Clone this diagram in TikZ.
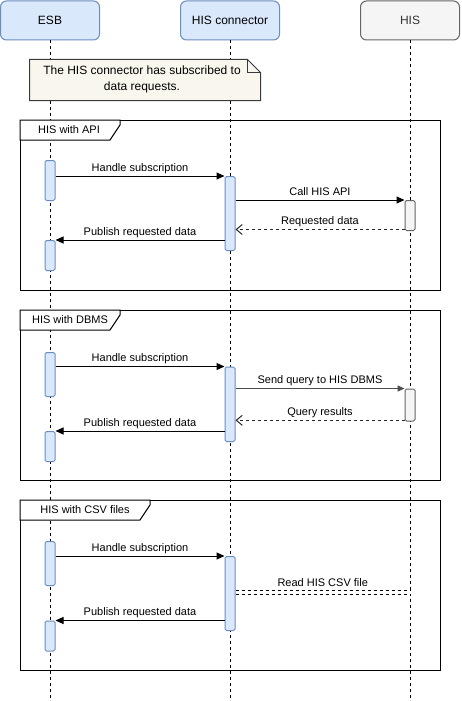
\documentclass[tikz,border=0pt]{standalone}
\usepackage{fontspec}
\setmainfont{Liberation Sans}
\usetikzlibrary{arrows.meta}
\definecolor{bluefill}{HTML}{DAE8FC}
\definecolor{bluedraw}{HTML}{6C8EBF}
\definecolor{grayfill}{HTML}{F5F5F5}
\definecolor{graydraw}{HTML}{666666}
\definecolor{graytext}{HTML}{333333}
\definecolor{notefill}{HTML}{F9F7ED}
\definecolor{notedraw}{HTML}{36393D}
\begin{document}
\begin{tikzpicture}[x=1pt,y=-1pt,line width=1pt,
  head/.style={draw=bluedraw,fill=bluefill,rounded corners=6pt,minimum width=99pt,minimum height=39pt,inner sep=0pt,font=\fontsize{12}{14}\selectfont},
  headgray/.style={head,draw=graydraw,fill=grayfill,text=graytext},
  life/.style={draw=black,dash pattern=on 3pt off 3pt},
  act/.style={draw=bluedraw,fill=bluefill,rounded corners=1.5pt,minimum width=10pt,inner sep=0pt,anchor=north},
  actgray/.style={act,draw=graydraw,fill=grayfill},
  msg/.style={draw=black,-{Triangle[length=8pt,width=7pt]}},
  msggray/.style={draw=black!70,line width=1.4pt,-{Triangle[length=7pt,width=6pt]}},
  ret/.style={draw=black!85,dash pattern=on 3pt off 3pt,-{Straight Barb[length=6pt,width=10pt]}},
  lbl/.style={font=\fontsize{11}{13}\selectfont,text height=8pt,text depth=2pt,inner sep=0pt,midway,yshift=8pt},
  framebox/.style={draw=black,minimum width=420pt,minimum height=170pt,inner sep=0pt,anchor=north west},
  frametab/.style={draw=black,fill=white},
  framelbl/.style={font=\fontsize{11}{13}\selectfont,text height=8pt,text depth=2pt,inner sep=0pt}
]
\useasboundingbox (0,0) rectangle (461,701);
\fill[white] (0,0) rectangle (461,701);
\coordinate (bot) at (0,701);

% headers
\node[head] (esb) at (50,20.5) {ESB};
\node[head] (hc) at (230,20.5) {HIS connector};
\node[headgray] (his) at (410,20.5) {HIS};

% lifelines
\draw[life] (esb.south) -- (esb.south |- bot);
\draw[life] (hc.south) -- (hc.south |- bot);
\draw[life] (his.south) -- (his.south |- bot);

% note
\node[minimum width=230pt,minimum height=40pt,inner sep=0pt] (note) at (145,80) {};
\filldraw[fill=notefill,draw=notedraw] (note.north west) -- ([xshift=-13pt]note.north east) -- ([yshift=-13pt]note.north east) -- (note.south east) -- (note.south west) -- cycle;
\draw[notedraw] ([xshift=-13pt]note.north east) -- ([xshift=-13pt,yshift=-13pt]note.north east) -- ([yshift=-13pt]note.north east);
\node[align=center,font=\fontsize{12}{15.6}\selectfont,inner sep=0pt] (notetext) at ([xshift=-3pt,yshift=0.5pt]note.center) {The HIS connector has subscribed to\\data requests.};

% frames
\node[framebox] (f1) at (20,120) {};
\filldraw[frametab] (f1.north west) -- ++(100,0) -- ++(0,5) -- ++(-10,15) -- ++(-90,0) -- cycle;
\node[framelbl] (f1l) at (69,130.5) {HIS with API};
\node[framebox] (f2) at (20,310) {};
\filldraw[frametab] (f2.north west) -- ++(100,0) -- ++(0,5) -- ++(-10,15) -- ++(-90,0) -- cycle;
\node[framelbl] (f2l) at (70,320.5) {HIS with DBMS};
\node[framebox] (f3) at (20,500) {};
\filldraw[frametab] (f3.north west) -- ++(130,0) -- ++(0,5) -- ++(-10,15) -- ++(-120,0) -- cycle;
\node[framelbl] (f3l) at (85,510.5) {HIS with CSV files};

% frame 1
\node[act,minimum height=40pt] (e1a) at (50,160) {};
\node[act,minimum height=74pt] (c1) at (230,176) {};
\node[actgray,minimum height=30pt] (h1) at (410,200) {};
\node[act,minimum height=30pt] (e1b) at (50,240) {};
\coordinate (r1) at ([yshift=1.5pt]h1.south west);
\draw[msg] (e1a.east |- c1.north) -- (c1.north west) node[lbl] {Handle subscription};
\draw[msg] (c1.east |- h1.north) -- (h1.north west) node[lbl] {Call HIS API};
\draw[ret] (r1) -- (c1.east |- r1) node[lbl] {Requested data};
\draw[msg] (c1.west |- e1b.north) -- (e1b.north east) node[lbl] {Publish requested data};

% frame 2
\node[act,minimum height=44pt] (e2a) at (50,352) {};
\node[act,minimum height=74.5pt] (c2) at (230,366.5) {};
\node[actgray,minimum height=32pt] (h2) at (410,388.5) {};
\node[act,minimum height=30pt] (e2b) at (50,431) {};
\coordinate (r2) at ([yshift=1.2pt]h2.south west);
\draw[msg] (e2a.east |- c2.north) -- (c2.north west) node[lbl] {Handle subscription};
\draw[msggray] (c2.east |- h2.north) -- (h2.north west) node[lbl] {Send query to HIS DBMS};
\draw[ret] (r2) -- (c2.east |- r2) node[lbl] {Query results};
\draw[msg] (c2.west |- e2b.north) -- (e2b.north east) node[lbl] {Publish requested data};

% frame 3
\node[act,minimum height=44pt] (e3a) at (50,541) {};
\node[act,minimum height=74pt] (c3) at (230,556) {};
\node[act,minimum height=30pt] (e3b) at (50,620.5) {};
\coordinate (csv) at (410,592);
\draw[msg] (e3a.east |- c3.north) -- (c3.north west) node[lbl] {Handle subscription};
\draw[draw=black,dash pattern=on 3pt off 3pt,double=white,double distance=3pt] (c3.east |- csv) -- (csv) node[lbl,yshift=1pt] {Read HIS CSV file};
\draw[msg] (c3.west |- e3b.north) -- (e3b.north east) node[lbl] {Publish requested data};
\end{tikzpicture}
\end{document}
